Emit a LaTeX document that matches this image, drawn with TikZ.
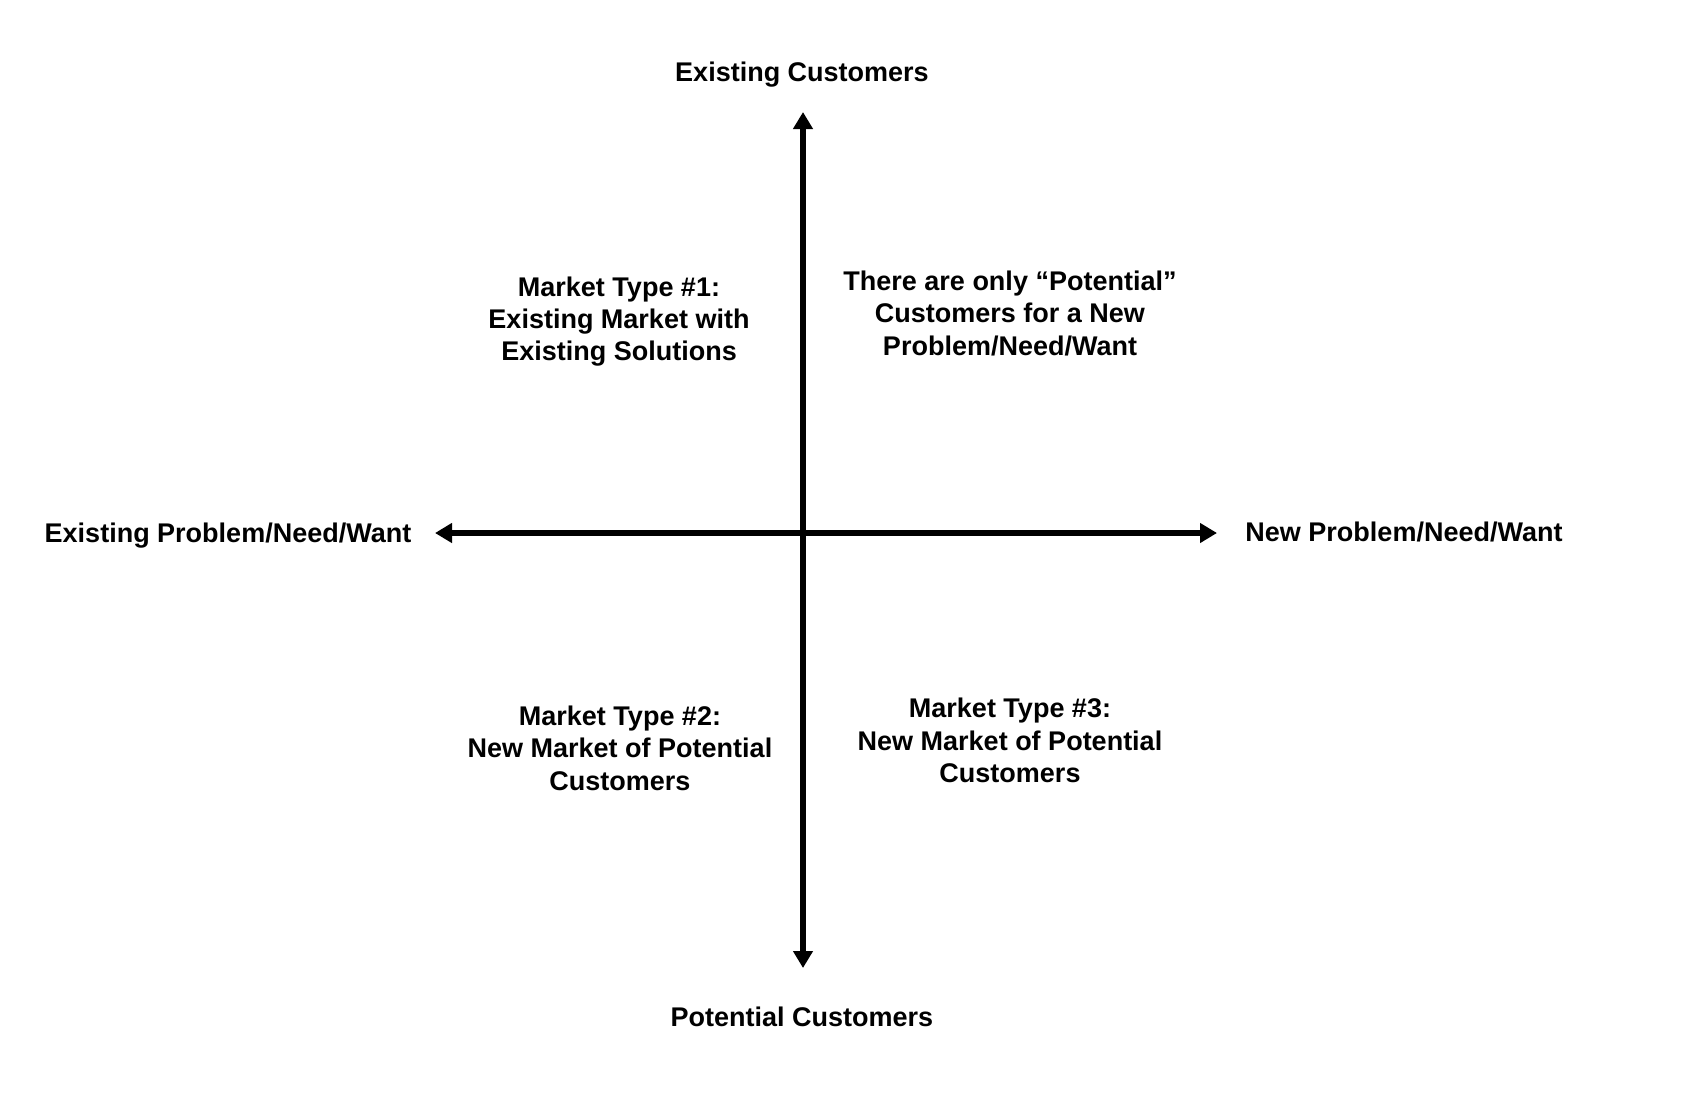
\documentclass[tikz,border=0pt]{standalone}
\usepackage{fontspec}
\setmainfont{Liberation Sans}
\usetikzlibrary{arrows.meta}
\begin{document}
\begin{tikzpicture}[x=1pt,y=-1pt,
  lbl/.style={font=\fontsize{27}{32.4}\selectfont\bfseries, inner sep=0pt, align=center},
  axisline/.style={line width=6pt, {Triangle[width=19pt,length=17pt]}-{Triangle[width=19pt,length=17pt]}}]
\useasboundingbox[fill=white] (0,0) rectangle (1694,1114);
\coordinate (L) at (435,533);
\coordinate (R) at (1217,533);
\coordinate (T) at (803,112);
\coordinate (B) at (803,968);
\draw[axisline] (L) -- (R);
\draw[axisline] (T) -- (B);
\node[lbl, anchor=base] (top) at (802,81) {Existing Customers};
\node[lbl, anchor=base] (bot) at (802,1026) {Potential Customers};
\node[lbl, anchor=base] (left) at (228,542) {Existing Problem/Need/Want};
\node[lbl, anchor=base] (right) at (1404,541) {New Problem/Need/Want};
\node[lbl] (q1) at (619,321.5) {Market Type \#1:\\Existing Market with\\Existing Solutions};
\node[lbl] (q2) at (620,748) {Market Type \#2:\\New Market of Potential\\Customers};
\node[lbl] (q3) at (1010,313.3) {There are only “Potential”\\Customers for a New\\Problem/Need/Want};
\node[lbl] (q4) at (1010,740.6) {Market Type \#3:\\New Market of Potential\\Customers};
\end{tikzpicture}
\end{document}
